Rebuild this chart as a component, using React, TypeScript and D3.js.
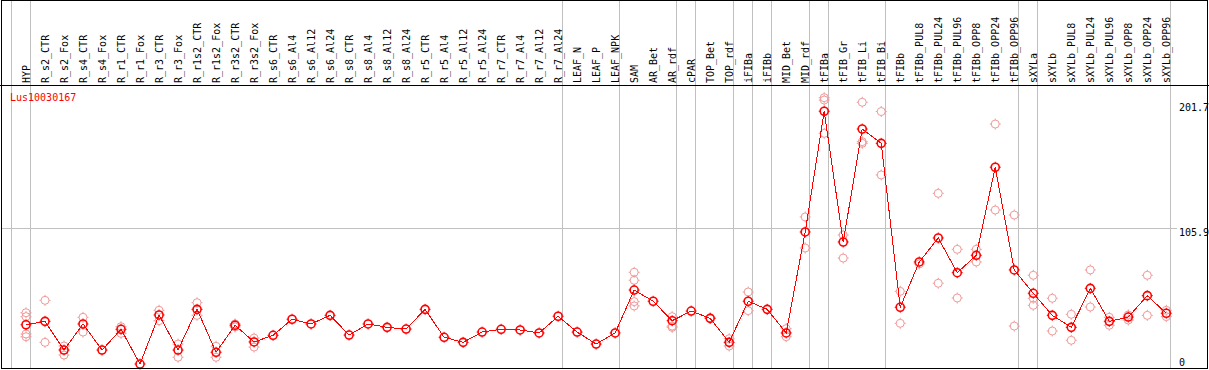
import React from "react";
import * as d3 from "d3";

const title = "Lus10030167";

const categories = [
  "HYP", "R_s2_CTR", "R_s2_Fox", "R_s4_CTR", "R_s4_Fox", "R_r1_CTR", "R_r1_Fox", "R_r3_CTR", "R_r3_Fox",
  "R_r1s2_CTR", "R_r1s2_Fox", "R_r3s2_CTR", "R_r3s2_Fox", "R_s6_CTR", "R_s6_Al4", "R_s6_Al12", "R_s6_Al24",
  "R_s8_CTR", "R_s8_Al4", "R_s8_Al12", "R_s8_Al24", "R_r5_CTR", "R_r5_Al4", "R_r5_Al12", "R_r5_Al24",
  "R_r7_CTR", "R_r7_Al4", "R_r7_Al12", "R_r7_Al24", "LEAF_N", "LEAF_P", "LEAF_NPK", "SAM", "AR_Bet", "AR_rdf",
  "cPAR", "TOP_Bet", "TOP_rdf", "iFIBa", "iFIBb", "MID_Bet", "MID_rdf", "tFIBa", "tFIB_Gr", "tFIB_Li", "tFIB_Bi",
  "tFIBb", "tFIBb_PUL8", "tFIBb_PUL24", "tFIBb_PUL96", "tFIBb_OPP8", "tFIBb_OPP24", "tFIBb_OPP96",
  "sXYLa", "sXYLb", "sXYLb_PUL8", "sXYLb_PUL24", "sXYLb_PUL96", "sXYLb_OPP8", "sXYLb_OPP24", "sXYLb_OPP96",
];

const means = [
  32.0, 34.6, 12.6, 32.6, 12.6, 28.5, 1.9, 39.5, 12.6,
  43.8, 10.9, 31.6, 18.8, 23.9, 36.2, 32.6, 39.2,
  24.1, 32.6, 30.0, 28.7, 43.8, 22.4, 18.5, 26.4,
  28.5, 28.0, 25.7, 38.5, 26.4, 17.2, 25.7, 58.6, 50.0, 35.1,
  42.5, 36.9, 18.5, 50.0, 43.8, 25.7, 103.1, 195.6, 95.4, 182.0, 171.0,
  45.4, 80.1, 98.5, 71.9, 85.2, 152.7, 74.0,
  56.1, 39.2, 30.0, 59.9, 34.6, 37.9, 54.3, 40.8,
];

const replicates: number[][] = [
  [41.2, 38.2, 24.9, 22.8], [50.7, 18.5], [15.7, 8.8], [37.7, 26.4], [], [30.5, 25.4], [], [43.1, 35.1], [17.2, 7.1],
  [48.9, 39.2], [15.5, 7.1], [32.6, 30.3], [21.8, 14.9], [], [], [], [],
  [], [], [], [], [], [], [], [],
  [], [], [], [], [], [], [], [72.2, 66.1, 49.7, 46.4], [], [38.2, 31.0, 30.0],
  [], [37.2], [21.3, 15.7], [57.1, 42.8], [], [29.0, 22.8], [114.6, 90.8], [206.0, 204.2, 178.7], [100.8, 83.1], [202.5, 172.3, 171.0], [195.4, 146.8],
  [57.6, 33.1], [78.6], [132.7, 63.8], [89.8, 52.5], [89.8, 80.1], [185.8, 119.9], [116.1, 31.0],
  [69.9, 52.3, 46.9], [52.3, 27.2], [40.0, 20.1], [74.0, 45.6], [37.7, 31.6], [39.5, 35.6], [69.9, 39.2], [43.1, 38.2],
];

const groupEnds = [0, 28, 31, 34, 35, 37, 38, 39, 41, 42, 45, 52, 53, 60];
const tickValues = [0, 105.9, 201.7];
const gridValues = [105.9];

const W = 1209;
const H = 370;
const FONT = "'DejaVu Sans Mono', monospace";
const RED = "#ff0000";
const PINK = "#ef9a9a";

function Marker({ cx, cy, color, sw }: { cx: number; cy: number; color: string; sw: number }) {
  const r = 4;
  return (
    <g stroke={color} strokeWidth={sw} fill="none">
      <circle cx={cx} cy={cy} r={r} />
      <line x1={cx} y1={cy - r} x2={cx} y2={cy - r - 1.5} strokeWidth={1} />
      <line x1={cx} y1={cy + r} x2={cx} y2={cy + r + 1.5} strokeWidth={1} />
      <line x1={cx - r} y1={cy} x2={cx - r - 1.5} y2={cy} strokeWidth={1} />
      <line x1={cx + r} y1={cy} x2={cx + r + 1.5} y2={cy} strokeWidth={1} />
    </g>
  );
}

export default function App() {
  const x = d3.scalePoint<string>().domain(categories).range([26, 1166.3]).padding(0);
  const step = x.step();
  const y = d3.scaleLinear().domain([0, 201.7]).range([366.5, 103.3]);
  const crisp = (v: number) => Math.floor(v) + 0.5;

  const line = d3
    .line<number>()
    .x((_, i) => x(categories[i]) as number)
    .y((d) => y(d));

  const gridXs = [x(categories[0])! - step + 4.5, ...groupEnds.map((i) => (x(categories[i]) as number) + 4.5)];

  return (
    <div style={{ position: "fixed", left: 0, top: 0 }}>
      <svg width={W} height={H} style={{ display: "block", background: "#fff" }}>
        <rect x={0} y={0} width={W} height={H} fill="#fff" />
        {gridXs.map((gx, i) => (
          <line key={"gv" + i} x1={crisp(gx)} x2={crisp(gx)} y1={0} y2={368} stroke="#c0c0c0" strokeWidth={1} shapeRendering="crispEdges" />
        ))}
        {gridValues.map((v, i) => (
          <line key={"gh" + i} x1={1} x2={1177} y1={crisp(y(v))} y2={crisp(y(v))} stroke="#c0c0c0" strokeWidth={1} shapeRendering="crispEdges" />
        ))}
        {categories.map((c) => {
          const cx = (x(c) as number) + 3.6;
          return (
            <text key={"l" + c} transform={`translate(${cx},83) rotate(-90)`} fontFamily={FONT} fontSize={10} fill="#000">
              {c}
            </text>
          );
        })}
        <text x={10} y={101} fontFamily={FONT} fontSize={10} fill={RED}>
          {title}
        </text>
        {tickValues.map((v) => (
          <text key={"t" + v} x={1179} y={Math.min(y(v) + 7.3, 366)} fontFamily={FONT} fontSize={10} fill="#000">
            {String(v)}
          </text>
        ))}
        {replicates.map((reps, i) =>
          reps.map((v, j) => <Marker key={`r${i}-${j}`} cx={x(categories[i]) as number} cy={y(v)} color={PINK} sw={1} />)
        )}
        <path d={line(means) || ""} fill="none" stroke={RED} strokeWidth={1} shapeRendering="crispEdges" />
        {means.map((v, i) => (
          <Marker key={"m" + i} cx={x(categories[i]) as number} cy={y(v)} color={RED} sw={1.6} />
        ))}
        <line x1={0} x2={W} y1={85.5} y2={85.5} stroke="#000" strokeWidth={1} shapeRendering="crispEdges" />
        <rect x={1.5} y={0.5} width={1206} height={368} fill="none" stroke="#000" strokeWidth={1} shapeRendering="crispEdges" />
      </svg>
    </div>
  );
}
